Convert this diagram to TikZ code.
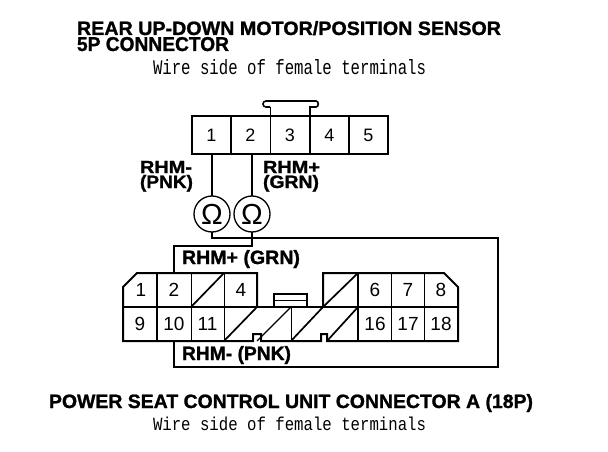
\documentclass[tikz,border=0pt]{standalone}
\usepackage{graphicx}
\usepackage{fontspec}
\setmainfont[BoldFeatures={FakeBold=1.2}]{Liberation Sans}
\newfontfamily\wirefont{Liberation Mono}
\newcommand{\fitbold}[3]{\resizebox{#1pt}{#2pt}{\bfseries #3}}
\newcommand{\fitmono}[2]{\resizebox{273pt}{#1pt}{\wirefont #2}}
\tikzset{
  x=1pt,y=-1pt,
  heavy/.style={line width=2pt,line cap=square,line join=miter},
  wire/.style={line width=1.7pt},
  lite/.style={line width=0.8pt},
  cell/.style={draw=none,inner sep=0pt,outer sep=0pt,font=\fontsize{18}{18}\selectfont},
  topcell/.style={cell,minimum height=38pt},
  lowcell/.style={cell,minimum width=33.5pt,minimum height=34pt,font=\fontsize{19}{19}\selectfont},
  meter/.style={circle,draw,line width=1.3pt,minimum size=36pt,inner sep=0pt,outer sep=0pt,font=\fontsize{29}{29}\selectfont},
  lbl/.style={inner sep=0pt,outer sep=0pt,anchor=north west},
}
\begin{document}
\begin{tikzpicture}
\useasboundingbox (0,0) rectangle (608,452);
\fill[white] (0,0) rectangle (608,452);
% titles
\node[lbl] (t1) at (77,21) {\fitbold{424}{14}{REAR UP-DOWN MOTOR/POSITION SENSOR}};
\node[lbl] (t2) at (77,37) {\fitbold{152}{14}{5P CONNECTOR}};
\node[lbl] (t3) at (153,60) {\fitmono{15}{Wire side of female terminals}};
\node[lbl] (t4) at (49,394) {\fitbold{484}{14}{POWER SEAT CONTROL UNIT CONNECTOR A (18P)}};
\node[lbl] (t5) at (153,416.5) {\fitmono{13.5}{Wire side of female terminals}};
% upper connector
\node[topcell,minimum width=39pt] (a1) at (211.5,135) {1};
\node[topcell,minimum width=39pt] (a2) at (250.5,135) {2};
\node[topcell,minimum width=40pt] (a3) at (290,135) {3};
\node[topcell,minimum width=39pt] (a4) at (329.5,135) {4};
\node[topcell,minimum width=39pt] (a5) at (368.5,135) {5};
\draw[heavy] (a1.north west) rectangle (a5.south east);
\draw[heavy] (a1.north east) -- (a1.south east);
\draw[lite] (a2.north east) -- (a2.south east);
\draw[heavy] (a3.north east) -- (a3.south east);
\draw[heavy] (a4.north east) -- (a4.south east);
% upper latch
\draw[lite] (270,116) -- (270,107);
\draw[heavy,line width=1.6pt] (310,116) -- (310,107) -- (316,107) .. controls (319,107) and (319,101) .. (316,101) -- (266,101) .. controls (262,101) and (262,107) .. (266,107) -- (270,107);
% meters
\node[meter] (m1) at (212,214) {Ω};
\node[meter] (m2) at (252,214) {Ω};
% labels
\node[lbl] (l1) at (140,161) {\fitbold{52}{12}{RHM-}};
\node[lbl] (l2) at (140,175) {\fitbold{53}{13}{(PNK)}};
\node[lbl] (l3) at (263,161) {\fitbold{57}{12}{RHM+}};
\node[lbl] (l4) at (263,175) {\fitbold{56}{13}{(GRN)}};
\node[lbl] (l5) at (182,250) {\fitbold{118}{14}{RHM+ (GRN)}};
\node[lbl] (l6) at (182,346) {\fitbold{109}{14}{RHM- (PNK)}};
% lower connector cells
\foreach \n/\lab/\cx/\cy in {b1/1/141/290,b2/2/174/290,b4/4/241/290,b6/6/375/290,b7/7/408/290,b8/8/441/290,
  c9/9/140/324,c10/10/174/324,c11/11/207.5/324,c16/16/375/324,c17/17/408/324,c18/18/441/324}
  \node[lowcell] (\n) at (\cx,\cy) {\lab};
% lower connector outline
\coordinate (tlA) at (137,273);
\coordinate (tlB) at (123,287);
\coordinate (trA) at (444,273);
\coordinate (trB) at (458,287);
\draw[heavy] (257,307) -- (257,273) -- (tlA) -- (tlB) -- (123,341) -- (253,341) -- (253,334) -- (261,334) -- (261,341) -- (321,341) -- (321,334) -- (327,334) -- (327,341) -- (458,341) -- (trB) -- (trA) -- (323,273) -- (323,307);
\draw[heavy] (123,307) -- (458,307);
% dividers
\draw[heavy] (157,273) -- (157,341);
\draw[lite] (191,273) -- (191,341);
\draw[lite] (224,273) -- (224,341);
\draw[heavy] (358,273) -- (358,341);
\draw[lite] (391,273) -- (391,341);
\draw[lite] (424,273) -- (424,341);
\draw[lite] (291,307) -- (291,341);
% diagonals
\draw[wire] (191,307) -- (224,273);
\draw[wire] (224,341) -- (257,307);
\draw[wire,line width=1.2pt] (257,341) -- (291,307);
\draw[wire] (291,341) -- (323,307);
\draw[wire] (323,307) -- (358,273);
\draw[wire] (327,341) -- (358,307);
% lower latch
\draw[heavy] (274,307) -- (274,294) -- (307,294) -- (307,307);
\draw[heavy,line width=1.4pt] (274,300.5) -- (307,300.5);
% wires
\coordinate (g1) at (212,238);
\coordinate (g2) at (252,246);
\coordinate (g3) at (174,246);
\coordinate (g4) at (498,238);
\coordinate (g5) at (498,367);
\coordinate (g6) at (174,367);
\draw[wire] (a1.south) ++(0.5,0) -- (m1.north);
\draw[wire] (a2.south) ++(1.5,0) -- (m2.north);
\draw[wire] (m1.south) -- (g1) -- (g4) -- (g5) -- (g6) -- (g6 |- c10.south);
\draw[wire] (m2.south) -- (g2) -- (g3) -- (g3 |- b2.north);
\end{tikzpicture}
\end{document}
